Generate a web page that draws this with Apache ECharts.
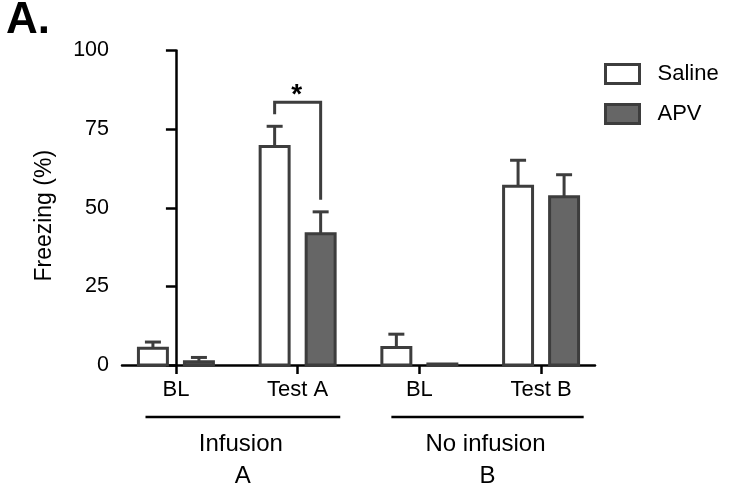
<!DOCTYPE html>
<html>
<head>
<meta charset="utf-8">
<script src="https://cdn.jsdelivr.net/npm/echarts@6/dist/echarts.min.js"></script>
<style>
  html, body { margin: 0; padding: 0; background: #fff; }
  #chart { width: 732px; height: 490px; }
</style>
</head>
<body>
<div id="chart"></div>
<script>
// Freezing (%) per session, mean and SEM for each infusion condition
const categories = ['BL', 'Test A', 'BL', 'Test B'];
const salineMean = [5.3, 69.5, 5.6, 56.8];
const salineSem  = [2.0, 6.4, 4.2, 8.3];
const apvMean    = [1.0, 41.7, 0.3, 53.5];
const apvSem     = [1.4, 7.0, 0.0, 7.0];
const yTicks     = [0, 25, 50, 75, 100];

// Session groups under the axis: [line start, line end] in category units
const groupNames = [['Infusion', 'A'], ['No infusion', 'B']];
const groupSpans = [[-0.25, 1.35], [1.77, 3.35]];

// Significant Saline vs APV comparisons (category index, mark)
const sigPairs = [[1, '*']];

const FONT = '"Liberation Sans", Arial, Helvetica, sans-serif';
const EDGE = '#3d3d3d';
const APV_FILL = '#666666';
const BAR_OFFSET = 0.189;
const BAR_WIDTH = 0.238;

function barRenderer(offset, fill) {
  return function (params, api) {
    const x = api.value(0) + offset;
    const v = api.value(1);
    const e = api.value(2);
    const unit = api.size([1, 0])[0];
    const w = unit * BAR_WIDTH;
    const base = api.coord([x, 0]);
    const top = api.coord([x, v]);
    const children = [];
    if (e > 0) {
      const err = api.coord([x, v + e]);
      children.push({
        type: 'line',
        shape: { x1: top[0], y1: top[1], x2: top[0], y2: err[1] },
        style: { stroke: EDGE, lineWidth: 3 }
      });
      children.push({
        type: 'line',
        shape: { x1: top[0] - 8, y1: err[1], x2: top[0] + 8, y2: err[1] },
        style: { stroke: EDGE, lineWidth: 3 }
      });
    }
    children.push({
      type: 'rect',
      shape: { x: base[0] - w / 2, y: top[1], width: w, height: Math.max(base[1] - top[1], 0.5) },
      style: { fill: fill, stroke: EDGE, lineWidth: 3 }
    });
    return { type: 'group', children: children };
  };
}

const salineData = categories.map((c, i) => [i, salineMean[i], salineSem[i]]);
const apvData = categories.map((c, i) => [i, apvMean[i], apvSem[i]]);
const sigData = sigPairs.map(p => [p[0], salineMean[p[0]] + salineSem[p[0]], apvMean[p[0]] + apvSem[p[0]]]);

const chart = echarts.init(document.getElementById('chart'), null, { renderer: 'canvas' });

chart.setOption({
  animation: false,
  backgroundColor: '#ffffff',
  textStyle: { fontFamily: FONT },
  grid: { left: 122, right: 137, top: 50.5, bottom: 125, containLabel: false },
  legend: {
    orient: 'vertical',
    left: 604,
    top: 63,
    padding: 0,
    itemWidth: 34,
    itemHeight: 19,
    itemGap: 18,
    textStyle: { fontFamily: FONT, fontSize: 22, color: '#000', padding: [0, 0, 0, 13] },
    data: [
      { name: 'Saline', icon: 'rect', itemStyle: { color: '#ffffff', borderColor: EDGE, borderWidth: 3 } },
      { name: 'APV', icon: 'rect', itemStyle: { color: APV_FILL, borderColor: EDGE, borderWidth: 3 } }
    ]
  },
  xAxis: {
    type: 'value',
    min: -0.443,
    max: 3.443,
    splitLine: { show: false },
    axisLine: { show: true, onZero: false, lineStyle: { color: '#000', width: 2.5 } },
    axisTick: { show: true, length: 9, customValues: categories.map((c, i) => i), lineStyle: { color: '#000', width: 2.5 } },
    axisLabel: {
      customValues: categories.map((c, i) => i),
      formatter: v => categories[Math.round(v)] || '',
      fontFamily: FONT, fontSize: 22, color: '#000', margin: 14
    }
  },
  yAxis: {
    type: 'value',
    min: yTicks[0],
    max: yTicks[yTicks.length - 1],
    interval: 25,
    splitLine: { show: false },
    axisLine: { show: true, lineStyle: { color: '#000', width: 2.5 } },
    axisTick: { show: true, length: 10, lineStyle: { color: '#000', width: 2.5 } },
    axisLabel: { fontFamily: FONT, fontSize: 21.5, color: '#000', margin: 13 }
  },
  series: [
    {
      name: 'Saline', type: 'custom', data: salineData,
      itemStyle: { color: '#ffffff', borderColor: EDGE, borderWidth: 3 },
      renderItem: barRenderer(-BAR_OFFSET, '#ffffff'), z: 3
    },
    {
      name: 'APV', type: 'custom', data: apvData,
      itemStyle: { color: APV_FILL, borderColor: EDGE, borderWidth: 3 },
      renderItem: barRenderer(BAR_OFFSET, APV_FILL), z: 3
    },
    {
      name: 'sig', type: 'custom', data: sigData, z: 4,
      renderItem: function (params, api) {
        const c = api.value(0);
        const left = api.coord([c - BAR_OFFSET, api.value(1)]);
        const right = api.coord([c + BAR_OFFSET, api.value(2)]);
        const topY = Math.min(left[1], right[1]) - 24;
        const mark = sigPairs[params.dataIndex][1];
        return {
          type: 'group',
          children: [
            {
              type: 'polyline',
              shape: { points: [[left[0], left[1] - 12], [left[0], topY], [right[0], topY], [right[0], right[1] - 12]] },
              style: { stroke: EDGE, lineWidth: 3, fill: null }
            },
            {
              type: 'text',
              style: {
                text: mark, x: (left[0] + right[0]) / 2 - 1, y: topY - 7,
                align: 'center', verticalAlign: 'middle',
                font: 'bold 28px ' + FONT, fill: '#000'
              }
            }
          ]
        };
      }
    }
  ]
});

// Panel letter, axis title and session group annotations
const baseY = chart.convertToPixel({ gridIndex: 0 }, [0, 0])[1];
const topY = chart.convertToPixel({ gridIndex: 0 }, [0, 100])[1];
const graphics = [
  {
    type: 'text', left: 6, top: -1,
    style: { text: 'A.', font: 'bold 44px ' + FONT, fill: '#000' }
  },
  {
    type: 'text', x: 45, y: (baseY + topY) / 2 + 8, rotation: Math.PI / 2,
    style: { text: 'Freezing (%)', align: 'center', verticalAlign: 'middle', font: '23px ' + FONT, fill: '#000' }
  }
];
groupSpans.forEach((span, i) => {
  const x1 = chart.convertToPixel({ gridIndex: 0 }, [span[0], 0])[0];
  const x2 = chart.convertToPixel({ gridIndex: 0 }, [span[1], 0])[0];
  const cx = (x1 + x2) / 2;
  graphics.push({
    type: 'line',
    shape: { x1: x1, y1: baseY + 52, x2: x2, y2: baseY + 52 },
    style: { stroke: '#000', lineWidth: 2.5 }
  });
  graphics.push({
    type: 'text',
    style: { text: groupNames[i][0], x: cx - 2, y: baseY + 79, align: 'center', verticalAlign: 'middle', font: '24px ' + FONT, fill: '#000' }
  });
  graphics.push({
    type: 'text',
    style: { text: groupNames[i][1], x: cx, y: baseY + 111, align: 'center', verticalAlign: 'middle', font: '24px ' + FONT, fill: '#000' }
  });
});
chart.setOption({ graphic: graphics });
</script>
</body>
</html>
